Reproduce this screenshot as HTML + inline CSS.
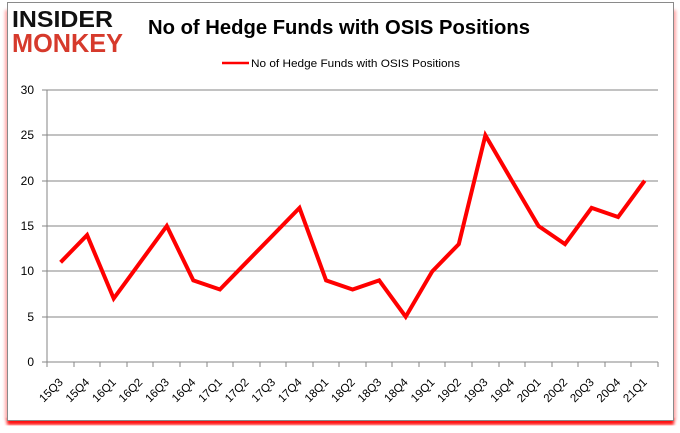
<!DOCTYPE html>
<html><head><meta charset="utf-8"><style>
html,body{margin:0;padding:0;background:#fff;}
svg{display:block;}
text{font-family:"Liberation Sans",Arial,sans-serif;}
</style></head><body>
<svg width="680" height="433" viewBox="0 0 680 433" xmlns="http://www.w3.org/2000/svg">
<defs><filter id="b" x="-5%" y="-5%" width="110%" height="110%"><feGaussianBlur stdDeviation="1.5"/></filter></defs>
<rect x="0" y="0" width="680" height="433" fill="#fff"/>
<rect x="5" y="10" width="671" height="410" fill="#ff0000" filter="url(#b)" opacity="0.35"/>
<rect x="7" y="418" width="667" height="7" fill="#ff0000" filter="url(#b)" opacity="0.95"/>
<rect x="7.5" y="2.5" width="666" height="418" fill="#fff" stroke="#8a8a8a" stroke-width="1"/>
<!-- logo -->
<text x="12" y="27" font-size="23" font-weight="bold" fill="#111" textLength="101" lengthAdjust="spacingAndGlyphs">INSIDER</text>
<text x="12" y="52" font-size="26" font-weight="bold" fill="#d63a2c" textLength="111" lengthAdjust="spacingAndGlyphs">MONKEY</text>
<!-- title -->
<text x="148" y="34" font-size="20" font-weight="bold" fill="#000" textLength="382" lengthAdjust="spacingAndGlyphs">No of Hedge Funds with OSIS Positions</text>
<!-- legend -->
<line x1="222" y1="63" x2="249" y2="63" stroke="#ff0000" stroke-width="2.5"/>
<text x="251" y="67" font-size="11" fill="#000" textLength="209" lengthAdjust="spacingAndGlyphs">No of Hedge Funds with OSIS Positions</text>
<!-- grid -->
<g stroke="#868686" stroke-width="1" shape-rendering="crispEdges">
<line x1="42" y1="90" x2="658" y2="90"/>
<line x1="42" y1="135" x2="658" y2="135"/>
<line x1="42" y1="181" x2="658" y2="181"/>
<line x1="42" y1="226" x2="658" y2="226"/>
<line x1="42" y1="271" x2="658" y2="271"/>
<line x1="42" y1="317" x2="658" y2="317"/>
<line x1="42" y1="362" x2="658" y2="362"/>
<line x1="47" y1="90" x2="47" y2="367"/>
<line x1="74" y1="362" x2="74" y2="367"/>
<line x1="100" y1="362" x2="100" y2="367"/>
<line x1="127" y1="362" x2="127" y2="367"/>
<line x1="153" y1="362" x2="153" y2="367"/>
<line x1="180" y1="362" x2="180" y2="367"/>
<line x1="207" y1="362" x2="207" y2="367"/>
<line x1="233" y1="362" x2="233" y2="367"/>
<line x1="260" y1="362" x2="260" y2="367"/>
<line x1="286" y1="362" x2="286" y2="367"/>
<line x1="313" y1="362" x2="313" y2="367"/>
<line x1="339" y1="362" x2="339" y2="367"/>
<line x1="366" y1="362" x2="366" y2="367"/>
<line x1="392" y1="362" x2="392" y2="367"/>
<line x1="419" y1="362" x2="419" y2="367"/>
<line x1="445" y1="362" x2="445" y2="367"/>
<line x1="472" y1="362" x2="472" y2="367"/>
<line x1="499" y1="362" x2="499" y2="367"/>
<line x1="525" y1="362" x2="525" y2="367"/>
<line x1="552" y1="362" x2="552" y2="367"/>
<line x1="578" y1="362" x2="578" y2="367"/>
<line x1="605" y1="362" x2="605" y2="367"/>
<line x1="631" y1="362" x2="631" y2="367"/>
<line x1="658" y1="362" x2="658" y2="367"/>
</g>
<!-- y labels -->
<g font-size="12" fill="#000" text-anchor="end">
<text x="34" y="94">30</text>
<text x="34" y="139">25</text>
<text x="34" y="185">20</text>
<text x="34" y="230">15</text>
<text x="34" y="275">10</text>
<text x="34" y="321">5</text>
<text x="34" y="366">0</text>
</g>
<!-- series -->
<polyline fill="none" stroke="#ff0000" stroke-width="4" stroke-linejoin="miter" points="60.6,262.3 87.1,235.1 113.7,298.5 140.2,262.3 166.8,226 193.3,280.4 219.9,289.5 246.4,262.3 273,235.1 299.5,207.9 326.1,280.4 352.6,289.5 379.2,280.4 405.7,316.7 432.3,271.3 458.8,244.1 485.4,135.3 511.9,180.7 538.5,226 565,244.1 591.6,207.9 618.1,217 644.7,180.7"/>
<!-- x labels -->
<g font-size="11.5" fill="#000" text-anchor="end">
<text transform="translate(63.6,383) rotate(-45)">15Q3</text>
<text transform="translate(90.1,383) rotate(-45)">15Q4</text>
<text transform="translate(116.7,383) rotate(-45)">16Q1</text>
<text transform="translate(143.2,383) rotate(-45)">16Q2</text>
<text transform="translate(169.8,383) rotate(-45)">16Q3</text>
<text transform="translate(196.3,383) rotate(-45)">16Q4</text>
<text transform="translate(222.9,383) rotate(-45)">17Q1</text>
<text transform="translate(249.4,383) rotate(-45)">17Q2</text>
<text transform="translate(276,383) rotate(-45)">17Q3</text>
<text transform="translate(302.5,383) rotate(-45)">17Q4</text>
<text transform="translate(329.1,383) rotate(-45)">18Q1</text>
<text transform="translate(355.6,383) rotate(-45)">18Q2</text>
<text transform="translate(382.2,383) rotate(-45)">18Q3</text>
<text transform="translate(408.7,383) rotate(-45)">18Q4</text>
<text transform="translate(435.3,383) rotate(-45)">19Q1</text>
<text transform="translate(461.8,383) rotate(-45)">19Q2</text>
<text transform="translate(488.4,383) rotate(-45)">19Q3</text>
<text transform="translate(514.9,383) rotate(-45)">19Q4</text>
<text transform="translate(541.5,383) rotate(-45)">20Q1</text>
<text transform="translate(568,383) rotate(-45)">20Q2</text>
<text transform="translate(594.6,383) rotate(-45)">20Q3</text>
<text transform="translate(621.1,383) rotate(-45)">20Q4</text>
<text transform="translate(647.7,383) rotate(-45)">21Q1</text>
</g>
</svg>
</body></html>
